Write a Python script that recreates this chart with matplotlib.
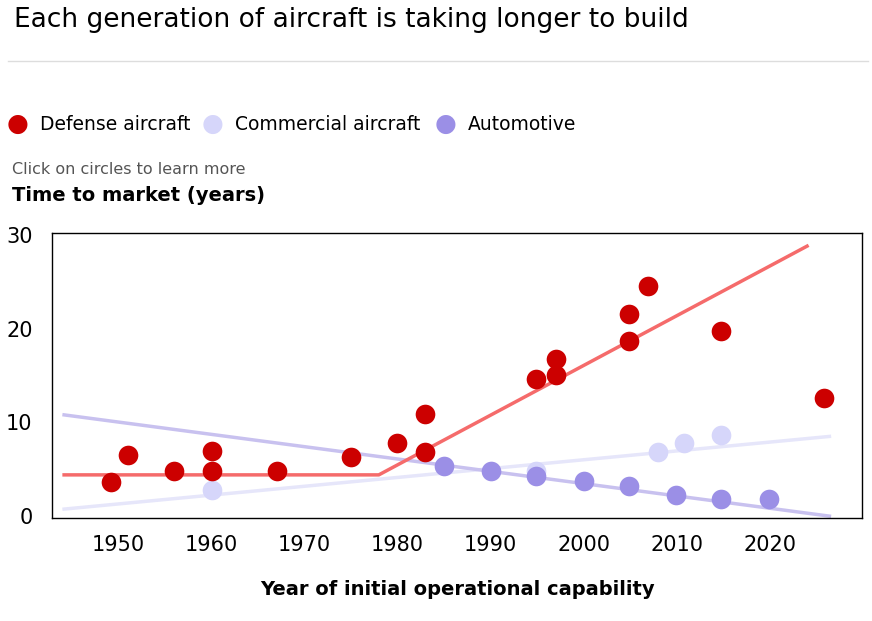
import matplotlib.pyplot as plt

defense = [(1949.2, 3.6), (1951.1, 6.5), (1956.0, 4.8), (1960.1, 7.0), (1960.1, 4.8),
           (1967.1, 4.8), (1975.0, 6.3), (1980.0, 7.8), (1983.0, 10.9), (1983.0, 6.8),
           (1994.9, 14.6), (1997.0, 16.8), (1997.0, 15.1), (2004.9, 21.6), (2004.9, 18.7),
           (2006.9, 24.6), (2014.8, 19.7), (2025.8, 12.6)]
commercial = [(1960.1, 2.8), (1994.9, 4.8), (2008.0, 6.8), (2010.8, 7.8), (2014.8, 8.7)]
automotive = [(1985.0, 5.3), (1990.0, 4.8), (1994.9, 4.3), (2000.0, 3.7), (2004.9, 3.2),
              (2009.9, 2.3), (2014.8, 1.8), (2019.9, 1.8)]

trend_def = ([1944.2, 1978.0, 2024.0], [4.4, 4.4, 28.8])
trend_auto = ([1944.2, 2026.4], [10.8, 0.0])
trend_com = ([1944.2, 2026.4], [0.75, 8.5])

RED, COM, AUTO = '#cc0000', '#d6d6fa', '#9b8fe6'

fig = plt.figure(figsize=(8.72, 6.21), dpi=100)
ax = fig.add_axes([52/872, 1 - 518/621, 810/872, 285/621])

ax.plot(*trend_com, color='#e6e6fa', lw=2.5, zorder=1)
ax.plot(*trend_auto, color='#c8c1ef', lw=2.5, zorder=1)
ax.plot(*trend_def, color='#f56b6b', lw=2.5, zorder=1)

for pts, c in [(commercial, COM), (automotive, AUTO), (defense, RED)]:
    xs, ys = zip(*pts)
    ax.scatter(xs, ys, s=200, color=c, zorder=3, linewidths=0)

ax.set_xlim(1942.9, 2029.9)
ax.set_ylim(-0.2, 30.2)
ax.set_xticks(range(1950, 2021, 10))
ax.set_yticks([0, 10, 20, 30])
ax.tick_params(length=0, labelsize=15, pad=12)
ax.tick_params(axis='y', pad=14)
for s in ax.spines.values():
    s.set_linewidth(1)
ax.set_xlabel('Year of initial operational capability', fontsize=14, fontweight='bold', labelpad=18)

fig.text(14/872, 1 - 20/621, 'Each generation of aircraft is taking longer to build',
         fontsize=19, fontweight='medium', va='center')
fig.add_artist(plt.Line2D([8/872, 868/872], [1 - 61/621] * 2, color='#dddddd', lw=1))

for label, c, x in [('Defense aircraft', RED, 18), ('Commercial aircraft', COM, 213), ('Automotive', AUTO, 446)]:
    fig.text(x/872, 1 - 124/621, '\u25CF', color=c, fontsize=18, va='center', ha='center')
    fig.text((x + 22)/872, 1 - 124/621, label, fontsize=13.5, va='center')

fig.text(12/872, 1 - 170/621, 'Click on circles to learn more', fontsize=11.5, color='#555555', va='center')
fig.text(12/872, 1 - 195/621, 'Time to market (years)', fontsize=14, fontweight='bold', va='center')

fig.savefig('out.png')
